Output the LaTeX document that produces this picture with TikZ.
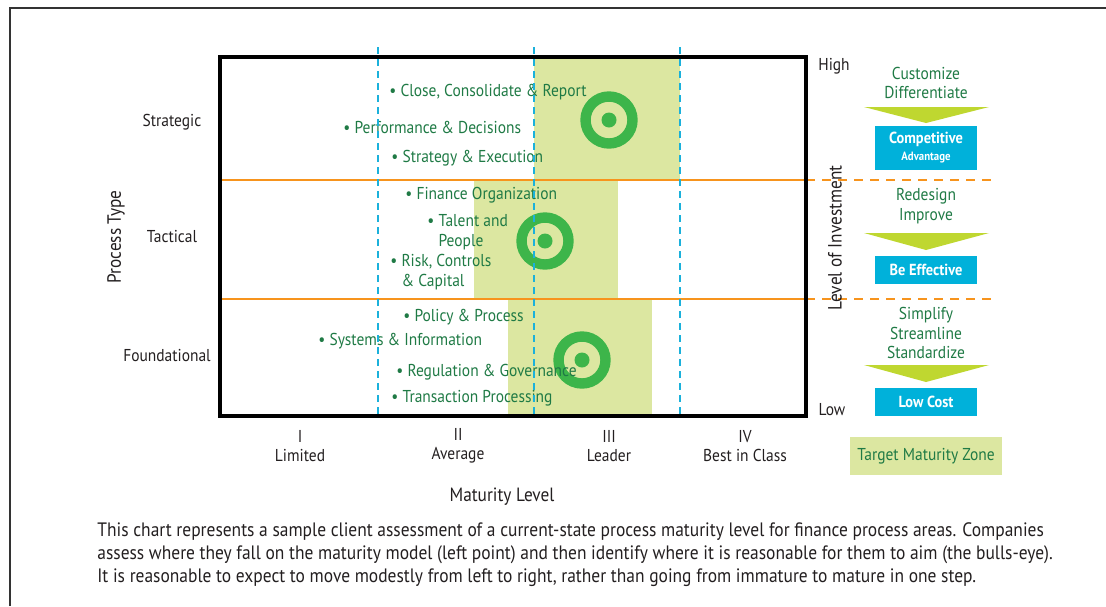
\documentclass[tikz,border=0pt]{standalone}
\usepackage{fontspec}
\setmainfont{PT Sans}[FakeStretch=0.9]
\usetikzlibrary{positioning, calc, arrows.meta}
\definecolor{zonegreen}{HTML}{DCE7A1}
\definecolor{eyegreen}{HTML}{3DB54A}
\definecolor{itemgreen}{HTML}{1F7A45}
\definecolor{lineorange}{HTML}{F7941D}
\definecolor{dashblue}{HTML}{1BB1DB}
\definecolor{boxblue}{HTML}{00B1DA}
\definecolor{arrowgreen}{HTML}{BFD730}
\definecolor{inkgray}{HTML}{231F20}

\begin{document}
\begin{tikzpicture}[x=0.5pt, y=-0.5pt, every node/.style={font=\fontsize{8.6}{9.7}\selectfont, inner sep=0pt, align=center, text=inkgray}, item/.style={anchor=west, align=left, text=itemgreen}, title/.style={font=\fontsize{9.6}{11.5}\selectfont}, valuebox/.style={fill=boxblue, text=white, font=\fontsize{8}{8.5}\selectfont\bfseries, minimum width=51pt, minimum height=14pt}, rowline/.style={lineorange, line width=1pt}, colline/.style={dashblue, line width=1pt, dash pattern=on 3.5pt off 2.5pt}]
        \useasboundingbox (0,0) rectangle (1106,606);
        % Frame
        \draw[line width=1.2pt, black!80] (10,606) -- (10,8) -- (1106,8);

        % Target zone
        \fill[zonegreen] (534,57) rectangle (680,180);
        \fill[zonegreen] (474,180) rectangle (618,299);
        \fill[zonegreen] (508,299) rectangle (652,416);

        % Row lines
        \foreach \y in {180, 299} {
        \draw[rowline] (220,\y) -- (806,\y);
        \draw[rowline, dash pattern=on 4.5pt off 3.5pt] (806,\y) -- (993,\y);
        }

        % Bulls-eyes
        \foreach \n/\x/\y in {eyeS/609/120, eyeT/545/241, eyeF/582/360} {
        \coordinate (\n) at (\x,\y);
        \draw[eyegreen, line width=5.2pt] (\n) circle[radius=23.5];
        \fill[eyegreen] (\n) circle[radius=7.5];
        }

        % Process items
        \foreach \n/\x/\y/\t in {close/389/92/{Close, Consolidate \& Report}, perf/343/127/{Performance \& Decisions}, strat/391/158/{Strategy \& Execution}, fin/405/195/{Finance Organization}, talent/427/232/{Talent and\\\hphantom{• }People}, risk/390/272/{Risk, Controls\\\hphantom{• }\& Capital}, policy/403/317/{Policy \& Process}, sys/318/341/{Systems \& Information}, reg/396/372/{Regulation \& Governance}, trans/391/398/{Transaction Processing}}
        \node[item] (\n) at (\x,\y) {• \t};

        % Maturity columns
        \foreach \x in {378, 534, 680}
        \draw[colline] (\x,47) -- (\x,416);
        \draw[line width=2pt] (220,57) rectangle (806,416);

        % Axis labels
        \node (strategic) at (172,122) {Strategic};
        \node (tactical) at (172,237) {Tactical};
        \node (found) at (167,356) {Foundational};
        \node[title, rotate=90] (ptype) at (116,237) {Process Type};
        \foreach \n/\x/\r/\t in {lim/300/I/Limited, avg/458/II/Average, lead/609/III/Leader, best/745/IV/Best in Class}
        \node (\n) at (\x,446) {\r\\\t};
        \node[title] (mlevel) at (502,497) {Maturity Level};
        \node (high) at (834,66) {High};
        \node (low) at (832,410) {Low};
        \node[title, rotate=90] (invest) at (835,238) {Level of Investment};

        % Investment steps
        \node[text=itemgreen] (cust) at (926,83) {Customize\\Differentiate};
        \fill[arrowgreen] (864,107) -- (989,107) -- (926,123) -- cycle;
        \node[valuebox, minimum height=22pt] (comp) at (926,148) {Competitive\\{\fontsize{6}{7}\selectfont Advantage}};
        \node[text=itemgreen] (redes) at (926,206) {Redesign\\Improve};
        \fill[arrowgreen] (864,233) -- (989,233) -- (926,250) -- cycle;
        \node[valuebox] (eff) at (926,269.5) {Be Effective};
        \node[text=itemgreen] (simp) at (926,333) {Simplify\\Streamline\\Standardize};
        \fill[arrowgreen] (864,365) -- (989,365) -- (926,382) -- cycle;
        \node[valuebox] (cost) at (926,402) {Low Cost};
        \node[fill=zonegreen, text=itemgreen, minimum width=76pt, minimum height=19pt] (zone) at (926,456) {Target Maturity Zone};

        % Caption
        \node[anchor=west, align=left, font=\fontsize{9.7}{11.5}\selectfont] (note) at (97,555) {This chart represents a sample client assessment of a current-state process maturity level for finance process areas. Companies\\assess where they fall on the maturity model (left point) and then identify where it is reasonable for them to aim (the bulls-eye).\\It is reasonable to expect to move modestly from left to right, rather than going from immature to mature in one step.};
\end{tikzpicture}
\end{document}
